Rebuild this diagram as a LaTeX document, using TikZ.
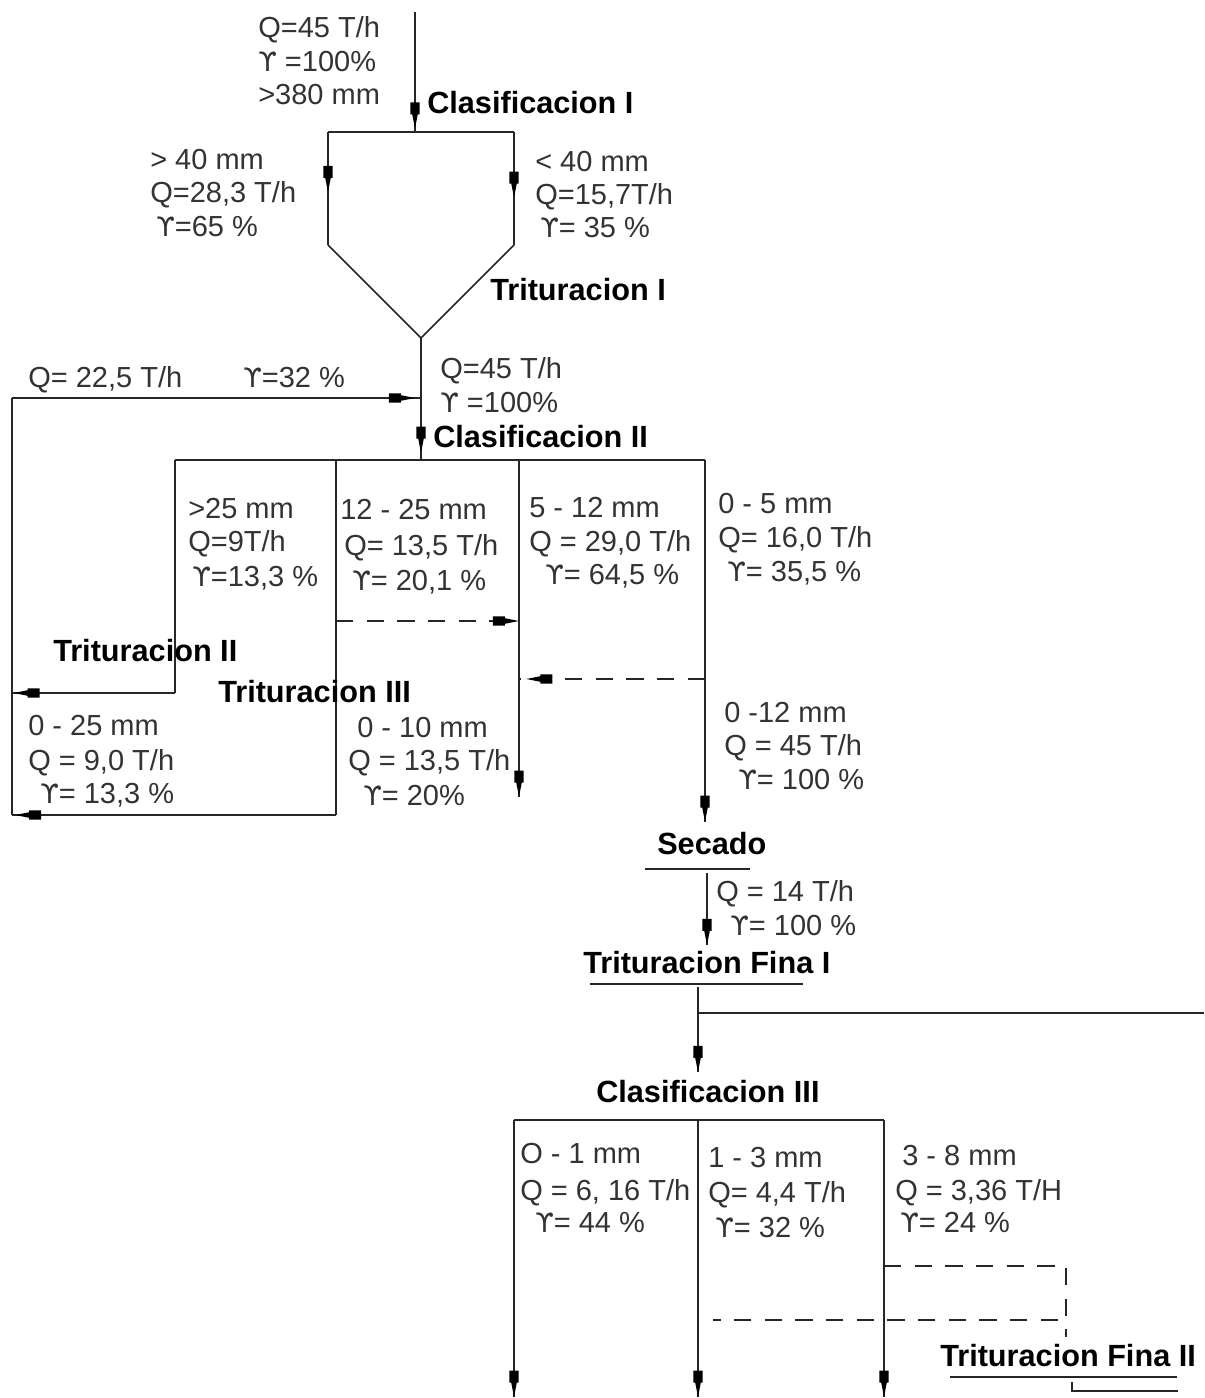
\documentclass[tikz,border=0pt]{standalone}
\usepackage{fontspec}
\setmainfont{Liberation Sans}
\newfontfamily\gfont{DejaVu Sans}
\usetikzlibrary{decorations.markings}
\newcommand\gam{{\gfont\fontsize{20}{25}\selectfont ϒ}}
\newcommand\Tx[3]{\node[txt] (#1) at (#2) {#3};}
\newcommand\Tb[3]{\node[ttl] (#1) at (#2) {#3};}
\begin{document}
\begin{tikzpicture}[x=0.75pt,y=-0.75pt,
  ln/.style={line width=1.1pt, black!85},
  dsh/.style={ln, dash pattern=on 13pt off 10pt},
  pm/.style={postaction={decorate},decoration={markings,mark=at position #1 with {\fill[black] (0,0) -- (-14,-2.8) -- (-14,-4.6) -- (-26,-4.6) -- (-26,4.6) -- (-14,4.6) -- (-14,2.8) -- cycle;}}},
  txt/.style={anchor=base west, inner sep=0pt, font=\fontsize{21.75}{25}\selectfont, text=black!80},
  ttl/.style={anchor=base west, inner sep=0pt, font=\fontsize{23}{27}\selectfont\bfseries, text=black},
]
\fill[white] (0,0) rectangle (1204,1398);
\useasboundingbox (0,0) rectangle (1204,1398);

% coordinates
\coordinate (in) at (415,12);
\coordinate (c1) at (415,132);
\coordinate (c1L) at (328,132);
\coordinate (c1R) at (514,132);
\coordinate (f1L) at (328,245);
\coordinate (f1R) at (514,245);
\coordinate (t1) at (421,338);
\coordinate (r2) at (421,398);
\coordinate (c2) at (421,460);
\coordinate (r1) at (12,398);
\coordinate (c2a) at (175,460);
\coordinate (c2b) at (336,460);
\coordinate (c2c) at (519,460);
\coordinate (c2d) at (705,460);
\coordinate (t2) at (175,693);
\coordinate (t2e) at (12,693);
\coordinate (t3) at (336,815);
\coordinate (t3e) at (12,815);
\coordinate (d1a) at (336,621);
\coordinate (d1b) at (519,621);
\coordinate (d2a) at (705,679);
\coordinate (d2b) at (519,679);
\coordinate (o1) at (519,797);
\coordinate (o2) at (705,822);
\coordinate (s1) at (645,869);
\coordinate (s2) at (750,869);
\coordinate (s3) at (707,873);
\coordinate (s4) at (707,945);
\coordinate (f1) at (590,984);
\coordinate (f2) at (803,984);
\coordinate (f3) at (698,987);
\coordinate (f4) at (698,1072);
\coordinate (fb) at (698,1013);
\coordinate (fe) at (1204,1013);
\coordinate (c3a) at (514,1120);
\coordinate (c3b) at (698,1120);
\coordinate (c3c) at (884,1120);
\coordinate (e1) at (514,1397);
\coordinate (e2) at (698,1397);
\coordinate (e3) at (884,1397);
\coordinate (g1) at (884,1266);
\coordinate (g2) at (1066,1266);
\coordinate (g3) at (1066,1337);
\coordinate (h1) at (1058,1320);
\coordinate (h2) at (713,1320);
\coordinate (u1) at (950,1377);
\coordinate (u2) at (1177,1377);
\coordinate (k1) at (1072,1382);
\coordinate (k2) at (1072,1391);
\coordinate (k3) at (1178,1391);

% lines - stage I
\draw[ln, pm=0.97] (in) -- (c1);
\draw[ln] (c1L) -- (c1R);
\draw[ln, pm=0.53] (c1L) -- (f1L);
\draw[ln, pm=0.58] (c1R) -- (f1R);
\draw[ln] (f1L) -- (t1) -- (f1R);
\draw[ln, pm=0.94] (t1) -- (c2);
% recycle
\draw[ln, pm=0.985] (r1) -- (r2);
\draw[ln] (r1) -- (t3e);
% classification II
\draw[ln] (c2a) -- (c2d);
\draw[ln] (c2a) -- (t2);
\draw[ln, pm=0.99] (t2) -- (t2e);
\draw[ln] (c2b) -- (t3);
\draw[ln, pm=0.99] (t3) -- (t3e);
\draw[dsh, pm=0.999] (d1a) -- (d1b);
\draw[dsh, pm=0.96] (d2a) -- (d2b);
\draw[ln, pm=0.999] (c2c) -- (o1);
\draw[ln, pm=0.999] (c2d) -- (o2);
% secado
\draw[ln] (s1) -- (s2);
\draw[ln, pm=0.999] (s3) -- (s4);
\draw[ln] (f1) -- (f2);
\draw[ln, pm=0.999] (f3) -- (f4);
\draw[ln] (fb) -- (fe);
% classification III
\draw[ln] (c3a) -- (c3c);
\draw[ln, pm=0.999] (c3a) -- (e1);
\draw[ln, pm=0.999] (c3b) -- (e2);
\draw[ln, pm=0.999] (c3c) -- (e3);
\draw[dsh] (g1) -- (g2) -- (g3);
\draw[dsh] (h1) -- (h2);
\draw[ln] (u1) -- (u2);
\draw[ln] (k1) -- (k2) -- (k3);

% texts
\Tx{a1}{258,38}{Q=45 T/h}
\Tx{a2}{258,72}{\gam\ =100\%}
\Tx{a3}{258,105}{>380 mm}
\Tb{cl1}{427,114}{Clasificacion I}
\Tx{b1}{150,170}{> 40 mm}
\Tx{b2}{150,203}{Q=28,3 T/h}
\Tx{b3}{156,237}{\gam=65 \%}
\Tx{b4}{535,172}{< 40 mm}
\Tx{b5}{535,205}{Q=15,7T/h}
\Tx{b6}{540,238}{\gam= 35 \%}
\Tb{tr1}{490,300}{Trituracion I}
\Tx{c1t}{440,378}{Q=45 T/h}
\Tx{c2t}{440,412}{\gam\ =100\%}
\Tb{cl2}{433,447}{Clasificacion II}
\Tx{rq}{28,387}{Q= 22,5 T/h}
\Tx{rg}{243,387}{\gam=32 \%}
\Tx{p1}{188,518}{>25 mm}
\Tx{p2}{188,551}{Q=9T/h}
\Tx{p3}{192,586}{\gam=13,3 \%}
\Tx{q1}{340,519}{12 - 25 mm}
\Tx{q2}{344,555}{Q= 13,5 T/h}
\Tx{q3}{352,590}{\gam= 20,1 \%}
\Tx{m1}{529,517}{5 - 12 mm}
\Tx{m2}{529,551}{Q = 29,0 T/h}
\Tx{m3}{545,584}{\gam= 64,5 \%}
\Tx{n1}{718,513}{0 - 5 mm}
\Tx{n2}{718,547}{Q= 16,0 T/h}
\Tx{n3}{727,581}{\gam= 35,5 \%}
\Tb{tr2}{53,661}{Trituracion II}
\Tb{tr3}{218,702}{Trituracion III}
\Tx{v1}{28,735}{0 - 25 mm}
\Tx{v2}{28,770}{Q = 9,0 T/h}
\Tx{v3}{40,803}{\gam= 13,3 \%}
\Tx{w1}{357,737}{0 - 10 mm}
\Tx{w2}{348,770}{Q = 13,5 T/h}
\Tx{w3}{363,805}{\gam= 20\%}
\Tx{z1}{724,722}{0 -12 mm}
\Tx{z2}{724,755}{Q = 45 T/h}
\Tx{z3}{738,789}{\gam= 100 \%}
\Tb{sec}{657,854}{Secado}
\Tx{y1}{716,901}{Q = 14 T/h}
\Tx{y2}{730,935}{\gam= 100 \%}
\Tb{tf1}{583,973}{Trituracion Fina I}
\Tb{cl3}{596,1102}{Clasificacion III}
\Tx{i1}{520,1163}{O - 1 mm}
\Tx{i2}{520,1200}{Q = 6, 16 T/h}
\Tx{i3}{535,1232}{\gam= 44 \%}
\Tx{j1}{708,1167}{1 - 3 mm}
\Tx{j2}{708,1202}{Q= 4,4 T/h}
\Tx{j3}{715,1237}{\gam= 32 \%}
\Tx{l1}{902,1165}{3 - 8 mm}
\Tx{l2}{895,1200}{Q = 3,36 T/H}
\Tx{l3}{900,1232}{\gam= 24 \%}
\Tb{tf2}{940,1366}{Trituracion Fina II}
\end{tikzpicture}
\end{document}
